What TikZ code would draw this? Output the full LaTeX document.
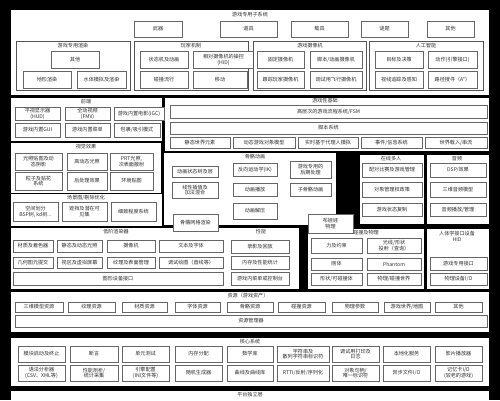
\documentclass[tikz,border=0pt]{standalone}
\usepackage{fontspec}
\setmainfont{Noto Sans CJK SC}
\definecolor{bxline}{HTML}{666666}
\definecolor{pnline}{HTML}{555555}
\definecolor{txt}{HTML}{2E2E2E}
\tikzset{
  bxs/.style={draw=bxline,line width=0.8pt,fill=white,inner sep=0pt,outer sep=0pt,align=center,text=txt,font=\fontsize{5.1}{5.8}\selectfont},
  pns/.style={draw=pnline,line width=0.7pt,fill=white,inner sep=0pt,outer sep=0pt},
  tps/.style={draw=white,line width=0.4pt,fill=white,inner sep=0pt,outer sep=0pt},
  ttl/.style={inner sep=0pt,text=txt,align=center,font=\fontsize{5.1}{5.8}\selectfont}
}
\newcommand\bx[7][]{\node[bxs,#1,minimum width={(#5-#3)*1pt},minimum height={(#6-#4)*1pt}] (#2) at ({(#3+#5)/2},{(#4+#6)/2}) {#7};}
\newcommand\pn[6][pns]{\node[#1,minimum width={(#5-#3)*1pt},minimum height={(#6-#4)*1pt}] (#2) at ({(#3+#5)/2},{(#4+#6)/2}) {};}
\begin{document}
\begin{tikzpicture}[x=1pt,y=-1pt]
\fill[black] (0,0) rectangle (500,400);
\useasboundingbox (0,0) rectangle (500,400);
% ---------- game-specific subsystems
\pn[tps]{P0}{11}{10}{488}{94}
\node[ttl] (T0) at (250,14.5) {游戏专用子系统};
\bx{w1}{134}{21}{182}{37}{武器}
\bx{w2}{220}{21}{277}{37}{道具}
\bx{w3}{291}{21}{348}{37}{载具}
\bx{w4}{361}{21}{408}{37}{谜题}
\bx{w5}{427}{21}{474}{37}{其他}
\pn{P1}{16}{41}{130}{90}
\node[ttl] (T1) at (73,45.5) {游戏专用渲染};
\bx{r1}{51}{51}{99}{68}{其他}
\bx{r2}{23}{71}{71}{88}{地形渲染}
\bx{r3}{77}{71}{126}{88}{水体模拟及渲染}
\pn{P2}{134}{41}{248}{90}
\node[ttl] (T2) at (191,45.5) {玩家机制};
\bx{m1}{140}{51}{188}{68}{状态机及动画}
\bx{m2}{193}{51}{254}{68}{相对摄像机的操控\\(HID)}
\bx{m3}{140}{71}{188}{88}{碰撞流行}
\bx{m4}{193}{71}{247}{88}{移动}
\pn{P3}{253}{41}{366}{90}
\node[ttl] (T3) at (310,45.5) {游戏摄像机};
\bx{c1}{257}{51}{304}{68}{固定摄像机}
\bx{c2}{310}{51}{362}{68}{脚本/动画摄像机}
\bx{c3}{257}{71}{304}{88}{跟踪玩家摄像机}
\bx{c4}{310}{71}{362}{88}{调试用飞行摄像机}
\pn{P4}{369}{41}{483}{90}
\node[ttl] (T4) at (426,45.5) {人工智能};
\bx{a1}{375}{51}{423}{68}{目标及决策}
\bx{a2}{428}{51}{477}{68}{动作(引擎接口)}
\bx{a3}{375}{71}{423}{88}{视线追踪及感知}
\bx{a4}{428}{71}{477}{88}{路径搜寻（A*）}
% ---------- front end
\pn[tps]{P5}{11}{98}{161}{140}
\node[ttl] (T5) at (86,101.5) {前端};
\bx{f1}{15}{107}{60}{120}{平视显示器\\(HUD)}
\bx{f2}{65}{107}{110}{120}{全动视频\\(FMV)}
\bx{f3}{114}{107}{164}{120}{游戏内置电影(IGC)}
\bx{f4}{15}{123}{60}{137}{游戏内置GUI}
\bx{f5}{65}{123}{110}{137}{游戏内置菜单}
\bx{f6}{114}{123}{160}{137}{包裹/吸引模式}
% ---------- gameplay foundations
\pn[tps]{P6}{165}{98}{488}{150}
\node[ttl] (T6) at (325,101) {游戏性基础};
\bx{g1}{170}{105}{487}{118}{高层次的游戏流程系统/FSM}
\bx{g2}{170}{122}{487}{134}{脚本系统}
\bx{g3}{170}{137}{230}{148}{静态世界元素}
\bx{g4}{233}{137}{295}{148}{动态游戏对象模型}
\bx{g5}{298}{137}{358}{148}{实时基于代理人模拟}
\bx{g6}{361}{137}{422}{148}{事件/信息系统}
\bx{g7}{425}{137}{487}{148}{世界载入/串流}
% ---------- visual effects
\pn[tps]{P7}{11}{143}{160}{192}
\node[ttl] (T7) at (86,147) {视觉效果};
\bx{v1}{15}{153}{62}{170}{光照贴图及动\\态阴影}
\bx{v2}{67}{153}{107}{170}{高动态光照}
\bx{v3}{110}{153}{153}{170}{PRT光照,\\次表面散射}
\bx{v4}{15}{172}{62}{190}{粒子及贴花\\系统}
\bx{v5}{67}{172}{107}{190}{后处理效果}
\bx{v6}{110}{172}{153}{190}{环境贴图}
% ---------- scene graph
\pn[tps]{P8}{11}{194}{161}{225}
\node[ttl] (T8) at (86,198) {场景图/剔除优化};
\bx{s1}{13}{202}{58}{221}{空间划分\\BSP树, kd树...}
\bx{s2}{62}{202}{107}{221}{遮挡及潜在可\\见集}
\bx{s3}{111}{202}{156}{221}{细致程度系统}
% ---------- skeletal animation
\pn[tps]{P9}{164}{153}{335}{224}
\node[ttl] (T9) at (255,157) {骨骼动画};
\bx{k1}{172}{166}{218}{177}{动画状态树及层}
\bx{k2}{233}{163}{277}{176}{反向运动学(IK)}
\bx{k3}{290}{161}{331}{178}{游戏专用的\\后期处理}
\bx{k4}{172}{182}{218}{198}{线性插值及\\加法混合}
\bx{k5}{233}{183}{277}{196}{动画播放}
\bx{k6}{290}{183}{331}{196}{子骨骼动画}
\bx{k7}{233}{203}{277}{219}{动画解压}
% ---------- online multiplayer
\pn[tps]{P10}{360}{155}{423}{223}
\node[ttl] (T10) at (391,158.5) {在线多人};
\bx{o1}{362}{163}{422}{177}{配对比赛及游戏管理}
\bx{o2}{362}{182}{422}{197}{对象管理权政策}
\bx{o3}{362}{203}{422}{216}{游戏状态复制}
% ---------- audio
\pn[tps]{P11}{427}{155}{488}{223}
\node[ttl] (T11) at (457,158.5) {音频};
\bx{d1}{430}{163}{486}{177}{DSP/效果}
\bx{d2}{430}{182}{486}{197}{三维音频模型}
\bx{d3}{430}{203}{486}{216}{音频播放/管理}
% ---------- low-level renderer
\pn[tps]{P12}{11}{228}{226}{288}
\node[ttl] (T12) at (116,232) {低阶渲染器};
\bx{l1}{13}{240}{53}{252}{材质及着色器}
\bx{l2}{57}{240}{102}{252}{静态及动态光照}
\bx{l3}{107}{240}{155}{252}{摄像机}
\bx{l4}{159}{240}{223}{252}{文本及字体}
\bx{l5}{13}{257}{53}{268}{几何图元提交}
\bx{l6}{57}{257}{102}{268}{视区及虚拟屏幕}
\bx{l7}{107}{257}{155}{268}{纹理及表面管理}
\bx{l8}{159}{257}{223}{268}{调试绘图（直线等）}
\bx{l9}{13}{272}{223}{285}{图形设备接口}
% ---------- profiling
\pn[tps]{P13}{226}{228}{298}{288}
\node[ttl] (T13) at (261,232) {性能};
\bx{q1}{231}{240}{289}{253}{录影及回放}
\bx{q2}{231}{256}{289}{269}{内存及性能统计}
\bx{q3}{231}{272}{289}{285}{游戏内菜单或控制台}
% ---------- collision & physics
\pn[tps]{P14}{308}{229}{423}{288}
\node[ttl] (T14) at (366,233) {碰撞及物理};
\bx{h1}{311}{238}{362}{253}{力及约束}
\bx{h2}{367}{238}{421}{253}{光线/形状\\投射（查询）}
\bx{h3}{311}{258}{362}{270}{刚体}
\bx{h4}{367}{258}{421}{270}{Phantom}
\bx{h5}{311}{273}{362}{285}{形状/可碰撞体}
\bx{h6}{367}{273}{421}{285}{物理/碰撞世界}
% ---------- HID
\pn[tps]{P15}{427}{229}{488}{288}
\node[ttl] (T15) at (457,236.5) {人体学接口设备\\HID};
\bx{i1}{430}{257}{487}{270}{游戏专用接口}
\bx{i2}{430}{273}{487}{285}{物理设备I/O}
% ---------- overlapping boxes
\bx{k8}{173}{214}{218}{231}{骨骼网格渲染}
\bx{k9}{308}{214}{353}{233}{布娃娃\\物理}
% ---------- resources
\pn[tps]{P16}{11}{292}{488}{331}
\node[ttl] (T16) at (248,296) {资源（游戏资产）};
\bx{e1}{15}{302}{63}{312}{三维模型资源}
\bx{e2}{68}{302}{115}{312}{纹理资源}
\bx{e3}{122}{302}{167}{312}{材质资源}
\bx{e4}{175}{302}{220}{312}{字体资源}
\bx{e5}{227}{302}{273}{312}{骨骼资源}
\bx{e6}{278}{302}{325}{312}{碰撞资源}
\bx{e7}{332}{302}{378}{312}{物理参数}
\bx{e8}{384}{302}{430}{312}{游戏世界/地图}
\bx{e9}{435}{302}{482}{312}{其他}
\bx{e10}{15}{315}{487}{327}{资源管理器}
% ---------- core systems
\pn[tps]{P17}{11}{338}{488}{385}
\node[ttl] (T17) at (250,342) {核心系统};
\bx{n1}{18}{346}{65}{362}{模块启动及终止}
\bx{n2}{70}{346}{118}{362}{断言}
\bx{n3}{122}{346}{169}{362}{单元测试}
\bx{n4}{175}{346}{222}{362}{内存分配}
\bx{n5}{227}{346}{273}{362}{数学库}
\bx{n6}{277}{346}{329}{362}{字符串及\\散列字符串标识符}
\bx{n7}{332}{346}{379}{362}{调试用打印及\\日志}
\bx{n8}{383}{346}{430}{362}{本地化服务}
\bx{n9}{435}{346}{482}{362}{影片播放器}
\bx{u1}{18}{365}{65}{381}{语法分析器\\(CSV、XML等)}
\bx{u2}{70}{365}{118}{381}{性能剖析/\\统计采集}
\bx{u3}{122}{365}{169}{381}{引擎配置\\(INI文件等)}
\bx{u4}{175}{365}{222}{381}{随机生成器}
\bx{u5}{227}{365}{273}{381}{曲线及曲线库}
\bx{u6}{277}{365}{329}{381}{RTTI/反射/序列化}
\bx{u7}{332}{365}{379}{381}{对象句柄/\\唯一标识符}
\bx{u8}{383}{365}{430}{381}{异步文件I/O}
\bx{u9}{435}{365}{482}{381}{记忆卡I/O\\(较老的游戏)}
% ---------- platform independence layer
\pn[tps]{P18}{11}{391}{488}{400}
\node[ttl] (T18) at (250,394.5) {平台独立层};
\end{tikzpicture}
\end{document}
